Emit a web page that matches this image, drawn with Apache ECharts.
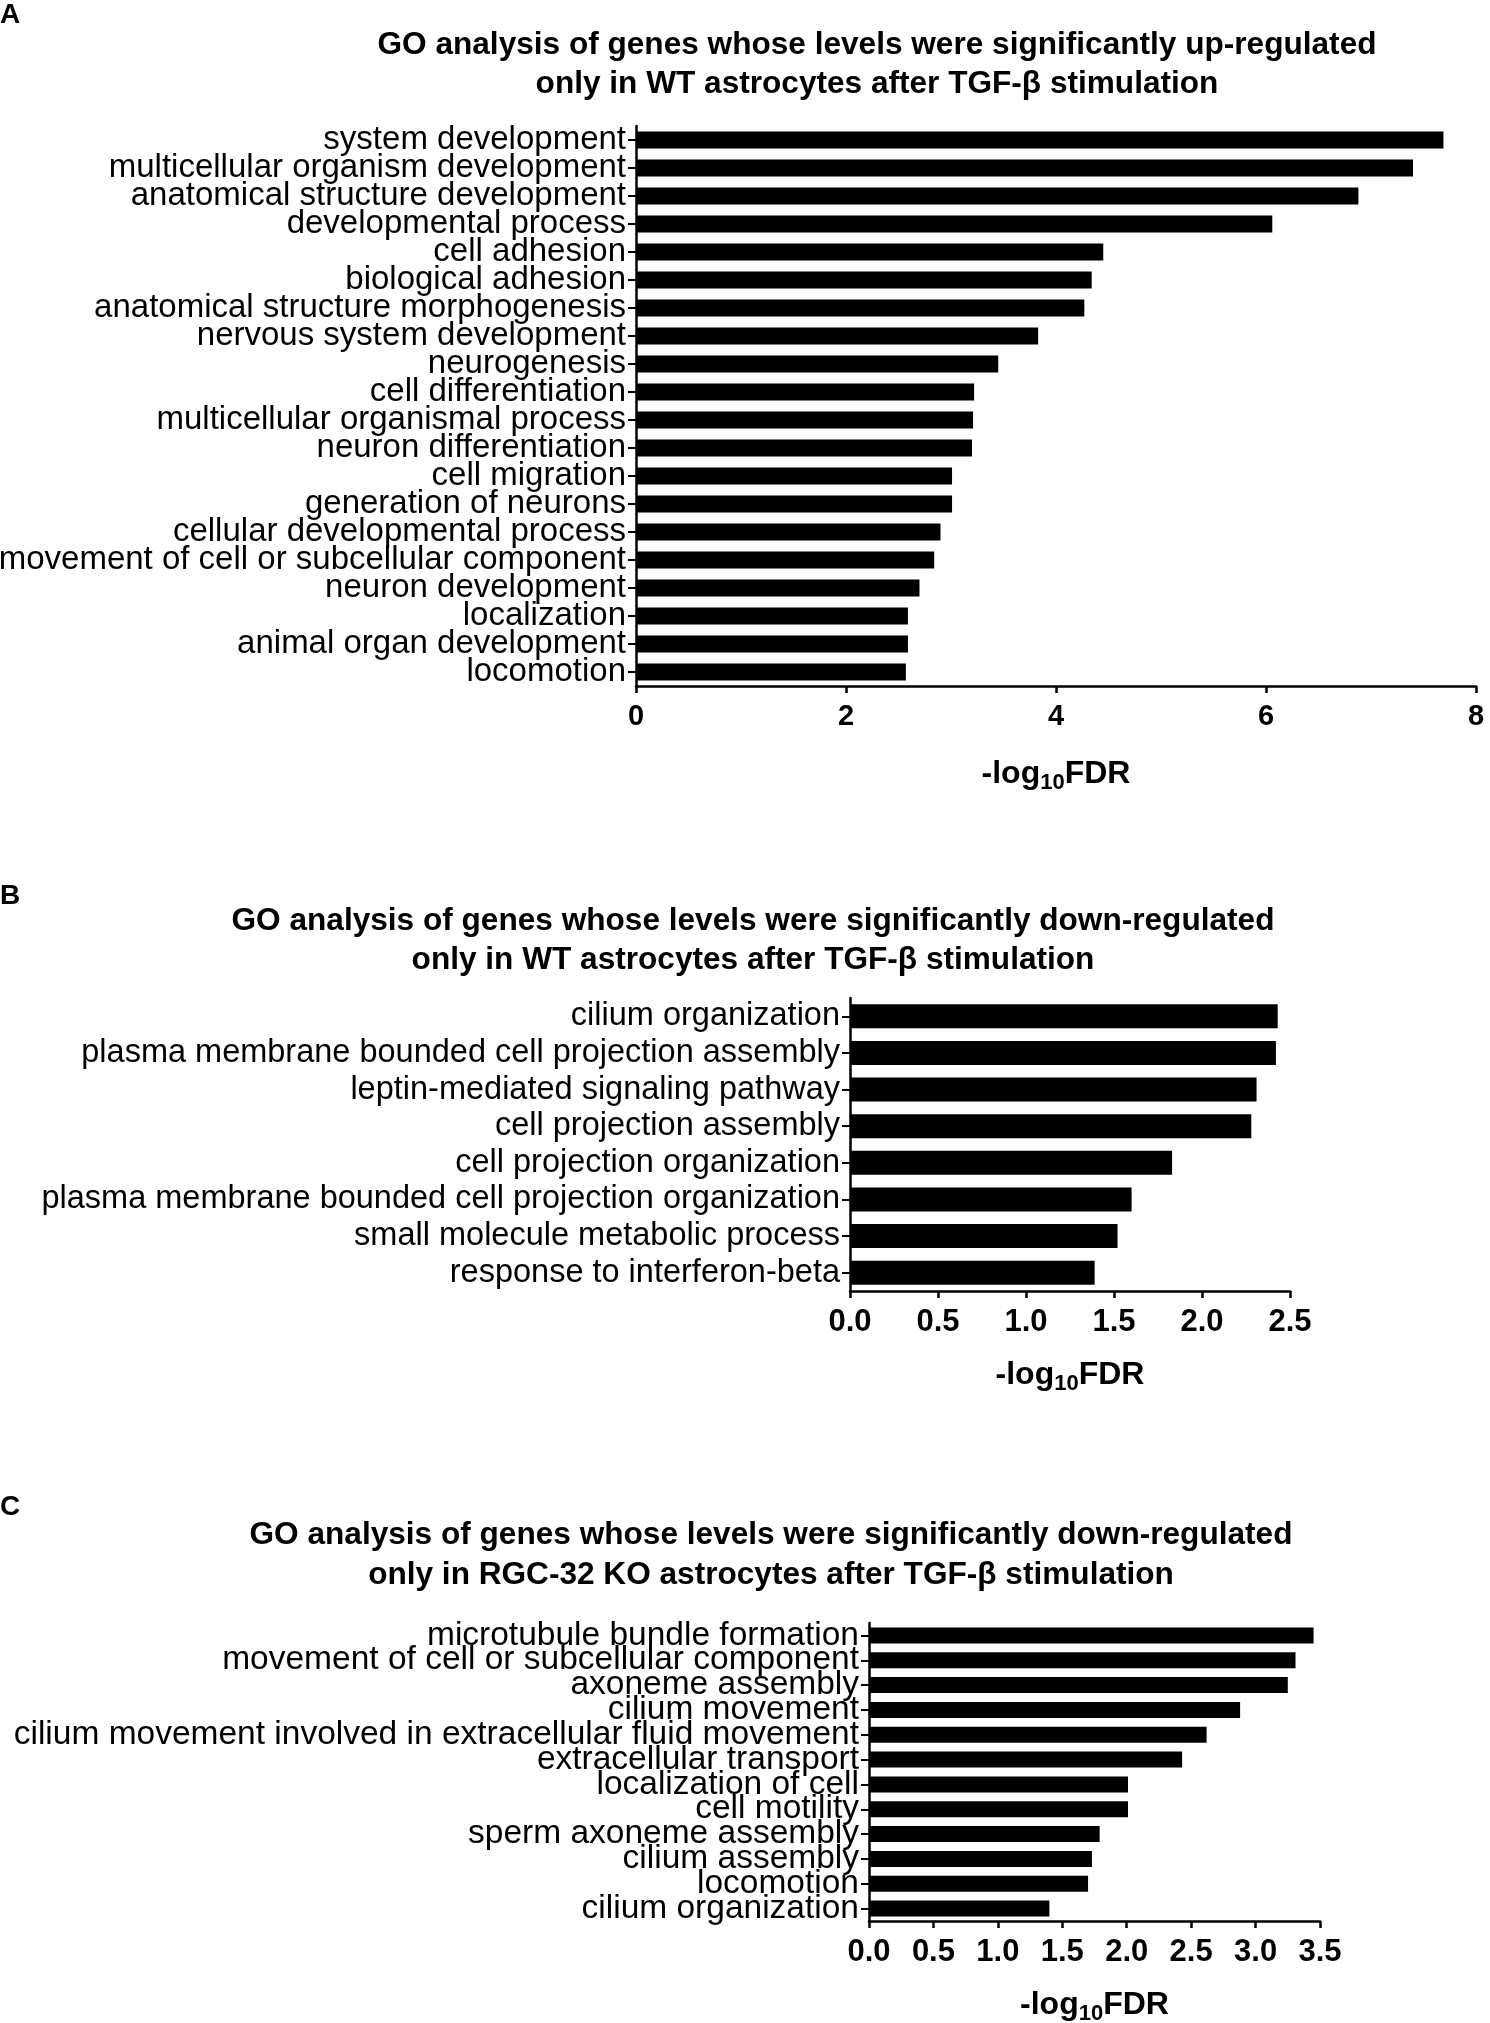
<!DOCTYPE html>
<html>
<head>
<meta charset="utf-8">
<script src="https://cdn.jsdelivr.net/npm/echarts@6/dist/echarts.min.js"></script>
<style>
  html, body { margin: 0; padding: 0; background: #fff; }
  #main { width: 1490px; height: 2023px; }
</style>
</head>
<body>
<div id="main"></div>
<script>
// panel A: up-regulated only in WT
var catsA = ['system development', 'multicellular organism development', 'anatomical structure development',
    'developmental process', 'cell adhesion', 'biological adhesion', 'anatomical structure morphogenesis',
    'nervous system development', 'neurogenesis', 'cell differentiation', 'multicellular organismal process',
    'neuron differentiation', 'cell migration', 'generation of neurons', 'cellular developmental process',
    'movement of cell or subcellular component', 'neuron development', 'localization',
    'animal organ development', 'locomotion'];
var valsA = [7.69, 7.40, 6.88, 6.06, 4.45, 4.34, 4.27, 3.83, 3.45, 3.22, 3.21, 3.20, 3.01, 3.01, 2.90, 2.84, 2.70, 2.59, 2.59, 2.57];

// panel B: down-regulated only in WT
var catsB = ['cilium organization', 'plasma membrane bounded cell projection assembly', 'leptin-mediated signaling pathway',
    'cell projection assembly', 'cell projection organization', 'plasma membrane bounded cell projection organization',
    'small molecule metabolic process', 'response to interferon-beta'];
var valsB = [2.43, 2.42, 2.31, 2.28, 1.83, 1.60, 1.52, 1.39];

// panel C: down-regulated only in RGC-32 KO
var catsC = ['microtubule bundle formation', 'movement of cell or subcellular component', 'axoneme assembly',
    'cilium movement', 'cilium movement involved in extracellular fluid movement', 'extracellular transport',
    'localization of cell', 'cell motility', 'sperm axoneme assembly', 'cilium assembly', 'locomotion',
    'cilium organization'];
var valsC = [3.45, 3.31, 3.25, 2.88, 2.62, 2.43, 2.01, 2.01, 1.79, 1.73, 1.70, 1.40];

var titlesA = ['GO analysis of genes whose levels were significantly up-regulated',
    'only in WT astrocytes after TGF-β stimulation'];
var titlesB = ['GO analysis of genes whose levels were significantly down-regulated',
    'only in WT astrocytes after TGF-β stimulation'];
var titlesC = ['GO analysis of genes whose levels were significantly down-regulated',
    'only in RGC-32 KO astrocytes after TGF-β stimulation'];

var FONT = '"Liberation Sans", Arial, Helvetica, sans-serif';

function makeX(idx, max, interval, labelSize, fixed, gap) {
    return {
        type: 'value', gridIndex: idx, min: 0, max: max, interval: interval,
        splitLine: {show: false},
        axisLine: {show: true, lineStyle: {color: '#000', width: 2.5}},
        axisTick: {show: true, length: 7, lineStyle: {color: '#000', width: 2.5}},
        axisLabel: {
            color: '#000', fontSize: labelSize, fontWeight: 'bold', fontFamily: FONT, margin: 16,
            formatter: function (v) { return fixed ? v.toFixed(1) : String(v); }
        },
        name: '{t|-log}{s|10}{t|FDR}',
        nameLocation: 'middle',
        nameGap: gap,
        nameTextStyle: {
            rich: {
                t: {fontSize: 32, fontWeight: 'bold', fontFamily: FONT, color: '#000', lineHeight: 36},
                s: {fontSize: 22, fontWeight: 'bold', fontFamily: FONT, color: '#000', lineHeight: 22,
                    padding: [16, 0, 0, 0], verticalAlign: 'top'}
            }
        }
    };
}

function makeY(idx, cats, labelSize) {
    return {
        type: 'category', gridIndex: idx, data: cats, inverse: true,
        axisLine: {show: true, lineStyle: {color: '#000', width: 2.5}},
        axisTick: {show: true, alignWithLabel: true, length: 8, lineStyle: {color: '#000', width: 2}},
        axisLabel: {color: '#000', fontSize: labelSize, fontFamily: FONT, margin: 10, interval: 0}
    };
}

function makeBar(idx, vals, w) {
    return {
        type: 'bar', xAxisIndex: idx, yAxisIndex: idx, data: vals, barWidth: w,
        itemStyle: {color: '#000'}, silent: true
    };
}

function txt(x, y, text, size, bold, align) {
    return {
        type: 'text', x: x, y: y,
        style: {
            text: text, fontSize: size, fontWeight: bold ? 'bold' : 'normal', fontFamily: FONT,
            fill: '#000', textAlign: align || 'center', textVerticalAlign: 'middle'
        }
    };
}

var myChart = echarts.init(document.getElementById('main'), null, {renderer: 'canvas'});
var option = {
    backgroundColor: '#fff',
    animation: false,
    grid: [
        {left: 636, top: 126, width: 840, height: 560, containLabel: false, outerBoundsMode: 'none'},
        {left: 850, top: 998, width: 440, height: 293, containLabel: false, outerBoundsMode: 'none'},
        {left: 869, top: 1623, width: 451, height: 298, containLabel: false, outerBoundsMode: 'none'}
    ],
    xAxis: [
        makeX(0, 8, 2, 29, false, 70),
        makeX(1, 2.5, 0.5, 31, true, 66),
        makeX(2, 3.5, 0.5, 31, true, 66)
    ],
    yAxis: [
        makeY(0, catsA, 33),
        makeY(1, catsB, 32.5),
        makeY(2, catsC, 33.5)
    ],
    series: [
        makeBar(0, valsA, 17),
        makeBar(1, valsB, 24),
        makeBar(2, valsC, 16)
    ],
    graphic: [
        txt(0, 15, 'A', 28, true, 'left'),
        txt(0, 896, 'B', 28, true, 'left'),
        txt(0, 1507, 'C', 28, true, 'left'),
        txt(877, 45, titlesA[0], 31.6, true),
        txt(877, 84, titlesA[1], 31.6, true),
        txt(753, 921, titlesB[0], 31.6, true),
        txt(753, 960, titlesB[1], 31.6, true),
        txt(771, 1535, titlesC[0], 31.6, true),
        txt(771, 1575, titlesC[1], 31.6, true)
    ]
};
myChart.setOption(option);
</script>
</body>
</html>
